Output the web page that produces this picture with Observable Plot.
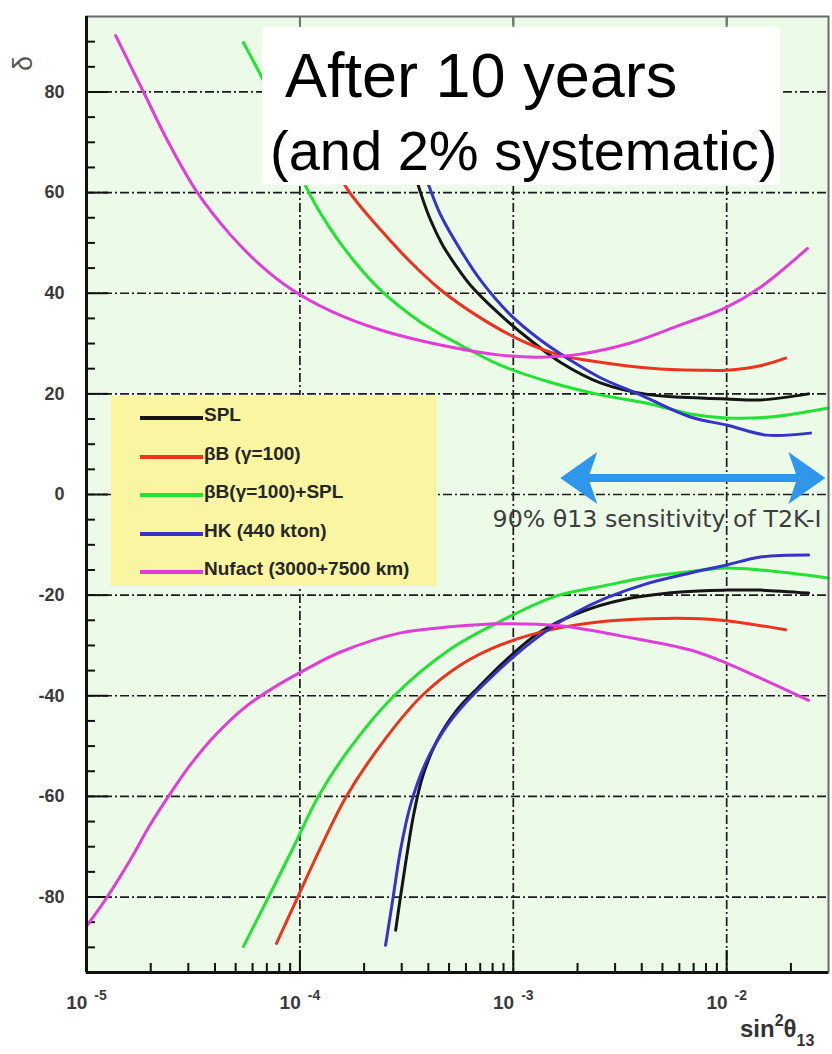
<!DOCTYPE html>
<html>
<head>
<meta charset="utf-8">
<script src="https://cdn.jsdelivr.net/npm/d3@7"></script>
<script src="https://cdn.jsdelivr.net/npm/@observablehq/plot@0.6"></script>
<style>
  body { margin: 0; background: #fff; }
  #wrap { position: relative; width: 832px; height: 1054px; overflow: hidden; font-family: "Liberation Sans", Arial, Helvetica, sans-serif; }
  #wrap svg { position: absolute; left: 0; top: 0; }
  .note { position: absolute; left: 262px; top: 27px; width: 518px; height: 158px; background: #fff; color: #000; }
  .note div { position: absolute; white-space: nowrap; line-height: 1; }
  .legend { position: absolute; left: 111px; top: 395px; width: 326px; height: 191px; background: #faf5a0; }
  .legend .sw { position: absolute; left: 29px; width: 63px; height: 4px; }
  .legend .lb { position: absolute; left: 93px; font-size: 19px; font-weight: bold; line-height: 1; color: #262626; white-space: nowrap; }
  .ylab { position: absolute; left: 16px; top: 50px; font-size: 27px; color: #555; transform: rotate(-90deg); line-height: 1; }
</style>
</head>
<body>
<div id="wrap"></div>
<script>
// Experiments compared for CP-violation (delta) discovery reach
const seriesNames = ["SPL", "βB (γ=100)", "βB(γ=100)+SPL", "HK (440 kton)", "Nufact (3000+7500 km)"];
const seriesColors = ["#151515", "#ee321e", "#22e232", "#3434cc", "#e23cda"];

// Each curve: [sin^2 theta13, delta (deg)]
const splUpper = [[2.72e-4, 82.4], [3.03e-4, 73.5], [3.37e-4, 65.5], [3.67e-4, 60.1], [4.09e-4, 54.6], [4.66e-4, 49.6], [5.36e-4, 45.6], [6.3e-4, 41.6], [8.7e-4, 35.7], [1.2e-3, 30.7], [1.66e-3, 26.3], [2.56e-3, 22.2], [4.39e-3, 19.8], [7.53e-3, 19.2], [1.0e-2, 19.0], [1.44e-2, 18.8], [2.42e-2, 20.0]];
const splLower = [[2.81e-4, -86.6], [2.96e-4, -80], [3.16e-4, -72.1], [3.41e-4, -63.7], [3.75e-4, -56.2], [4.36e-4, -49.2], [5.36e-4, -43.2], [6.87e-4, -38.3], [9.19e-4, -33.0], [1.34e-3, -27.3], [2.06e-3, -23.4], [3.18e-3, -21.0], [6.07e-3, -19.4], [1.0e-2, -19.0], [1.44e-2, -19.0], [2.42e-2, -19.6]];

const bbUpper = [[7.77e-5, 89], [9.75e-5, 80], [1.25e-4, 70.2], [1.7e-4, 60.2], [2.39e-4, 52.6], [3.3e-4, 46.2], [4.56e-4, 40.7], [7.02e-4, 35.1], [1.08e-3, 30.7], [1.66e-3, 27.7], [2.56e-3, 26.3], [4.39e-3, 25.1], [7.53e-3, 24.7], [1.0e-2, 24.7], [1.44e-2, 25.6], [1.89e-2, 27.1]];
const bbLower = [[7.77e-5, -89.2], [9.75e-5, -80.1], [1.25e-4, -70.2], [1.64e-4, -60.2], [2.39e-4, -49.8], [3.67e-4, -40.3], [5.66e-4, -33.9], [8.7e-4, -29.9], [1.49e-3, -26.9], [2.56e-3, -25.3], [4.39e-3, -24.7], [7.53e-3, -24.7], [1.0e-2, -25.1], [1.89e-2, -26.9]];

const bbSplUpper = [[5.44e-5, 89.8], [6.68e-5, 82.6], [8.56e-5, 72.7], [1.06e-4, 61.5], [1.39e-4, 52.8], [1.82e-4, 46.1], [2.39e-4, 40.6], [3.67e-4, 34.3], [5.66e-4, 29.7], [8.7e-4, 25.7], [1.49e-3, 22.3], [2.56e-3, 19.8], [4.39e-3, 18.0], [6.76e-3, 16.0], [9.97e-3, 15.2], [1.6e-2, 15.4], [3.0e-2, 17.2]];
const bbSplLower = [[5.44e-5, -89.8], [7.13e-5, -80], [9.33e-5, -70.1], [1.22e-4, -60], [1.73e-4, -50.2], [2.75e-4, -40.1], [5.08e-4, -30.7], [8.7e-4, -25.2], [1.58e-3, -20.2], [2.56e-3, -18.3], [4.39e-3, -16.3], [6.76e-3, -15.3], [9.97e-3, -14.6], [1.44e-2, -15], [3.0e-2, -16.6]];

const hkUpper = [[2.52e-4, 89.6], [2.9e-4, 80.4], [3.3e-4, 72.5], [3.67e-4, 66.1], [4.01e-4, 61.5], [4.56e-4, 55.6], [5.66e-4, 48.6], [7.02e-4, 42.6], [9.7e-4, 35.7], [1.34e-3, 30.7], [1.85e-3, 26.7], [2.56e-3, 23.2], [3.94e-3, 19.8], [6.76e-3, 15.4], [1.0e-2, 13.8], [1.54e-2, 11.8], [2.47e-2, 12.2]];
const hkLower = [[2.52e-4, -89.6], [2.72e-4, -80.7], [2.96e-4, -70.7], [3.3e-4, -61.7], [3.88e-4, -53.4], [4.81e-4, -46.4], [5.98e-4, -41.4], [7.84e-4, -36.4], [1.03e-3, -31.8], [1.41e-3, -27.3], [1.95e-3, -23.5], [2.71e-3, -20.6], [4.16e-3, -17.8], [6.76e-3, -15.6], [1.0e-2, -14.0], [1.44e-2, -12.4], [2.42e-2, -12.0]];

const nufactUpper = [[1.37e-5, 91.2], [1.85e-5, 80], [2.42e-5, 70], [3.31e-5, 60], [4.73e-5, 51.6], [6.53e-5, 45.6], [9.04e-5, 40.9], [1.39e-4, 36.5], [2.39e-4, 32.7], [5.08e-4, 29.3], [8.7e-4, 27.7], [1.34e-3, 27.3], [2.06e-3, 27.9], [3.54e-3, 30.1], [6.07e-3, 33.7], [9.97e-3, 37.2], [1.44e-2, 41.2], [2.39e-2, 48.9]];
const nufactLower = [[1.0e-5, -85.8], [1.1e-5, -83.4], [1.25e-5, -80], [1.61e-5, -72.5], [1.99e-5, -65.6], [2.42e-5, -60], [3.07e-5, -53.7], [4.02e-5, -47.8], [5.56e-5, -42.2], [7.52e-5, -38.4], [1.01e-4, -35.3], [1.55e-4, -31.3], [2.96e-4, -27.5], [5.08e-4, -26.3], [8.7e-4, -25.7], [1.66e-3, -26.1], [3.18e-3, -28.1], [6.76e-3, -30.9], [9.97e-3, -33.5], [1.44e-2, -36.5], [2.42e-2, -40.9]];

// Axis ticks
const xDomain = [1e-5, 3e-2];
const yDomain = [-95, 95];
const xDecades = [1e-5, 1e-4, 1e-3, 1e-2];
const xGrid = [1e-4, 1e-3, 1e-2];
const xMinor = [2e-5, 3e-5, 4e-5, 5e-5, 6e-5, 7e-5, 8e-5, 9e-5, 2e-4, 3e-4, 4e-4, 5e-4, 6e-4, 7e-4, 8e-4, 9e-4, 2e-3, 3e-3, 4e-3, 5e-3, 6e-3, 7e-3, 8e-3, 9e-3, 2e-2];
const yGrid = [-80, -60, -40, -20, 0, 20, 40, 60, 80];
const yMinor = [-90, -85, -75, -70, -65, -55, -50, -45, -35, -30, -25, -15, -10, -5, 5, 10, 15, 25, 30, 35, 45, 50, 55, 65, 70, 75, 85, 90];

// T2K-I 90% theta13 sensitivity marker
const arrowDelta = 3.3;
const arrowTips = [1.66e-3, 2.9e-2];
const arrowShaft = [1.8e-3, 2.69e-2];
const arrowColor = "#2e97ec";
const noteText = "90% θ13 sensitivity of T2K-I";
const noteX = 8.0e-4;
const noteDelta = -4.9;

const curves = [
  [seriesNames[0], "up", splUpper], [seriesNames[0], "down", splLower],
  [seriesNames[1], "up", bbUpper], [seriesNames[1], "down", bbLower],
  [seriesNames[2], "up", bbSplUpper], [seriesNames[2], "down", bbSplLower],
  [seriesNames[3], "up", hkUpper], [seriesNames[3], "down", hkLower],
  [seriesNames[4], "up", nufactUpper], [seriesNames[4], "down", nufactLower]
];
const rows = curves.flatMap(([series, branch, pts]) =>
  pts.map(([x, d]) => ({series, key: series + "/" + branch, x, d})));

// Filled, swept-back arrowhead pointing to +x with its tip at the origin
const arrowHead = {
  draw(ctx, size) {
    const r = Math.sqrt(size / Math.PI);
    ctx.moveTo(0, 0);
    ctx.lineTo(-1.85 * r, -1.3 * r);
    ctx.lineTo(-1.4 * r, 0);
    ctx.lineTo(-1.85 * r, 1.3 * r);
    ctx.closePath();
  }
};

const gridStyle = {stroke: "#1c1c1c", strokeWidth: 1.7, strokeDasharray: "9,3,2,3"};
const blank = () => "";

const chart = Plot.plot({
  width: 832,
  height: 1054,
  marginLeft: 86,
  marginRight: 4,
  marginTop: 16,
  marginBottom: 82,
  style: {background: "transparent", fontFamily: "'Liberation Sans', Arial, sans-serif"},
  x: {type: "log", domain: xDomain, label: null},
  y: {domain: yDomain, label: null},
  color: {domain: seriesNames, range: seriesColors},
  marks: [
    Plot.frame({fill: "#ecfae8", stroke: null}),
    Plot.ruleY(yGrid, gridStyle),
    Plot.ruleX(xGrid, gridStyle),
    Plot.axisY({ticks: yMinor, tickSize: -9, tickFormat: blank, stroke: "#111", strokeWidth: 2, label: null}),
    Plot.axisY({ticks: yGrid, tickSize: -22, tickFormat: blank, stroke: "#111", strokeWidth: 2, label: null}),
    Plot.axisY({ticks: yGrid, tickSize: 0, tickPadding: 22, tickFormat: d => `${d}`,
      fontSize: 18, fontWeight: "bold", fill: "#3a3a3a", label: null}),
    Plot.axisX({ticks: xMinor, tickSize: -9, tickFormat: blank, stroke: "#111", strokeWidth: 2, label: null}),
    Plot.axisX({ticks: xGrid, tickSize: -22, tickFormat: blank, stroke: "#111", strokeWidth: 2, label: null}),
    Plot.axisX({anchor: "top", ticks: xGrid, tickSize: -11, tickFormat: blank, stroke: "#777", strokeWidth: 2, label: null}),
    Plot.axisX({ticks: xDecades, tickSize: 0, tickPadding: 23, tickFormat: d => `10^${Math.round(Math.log10(d))}`,
      fontSize: 19, fontWeight: "bold", fill: "#3a3a3a", label: null}),
    Plot.line(rows, {x: "x", y: "d", z: "key", stroke: "series", strokeWidth: 3, curve: "catmull-rom"}),
    Plot.ruleY([arrowDelta], {x1: arrowShaft[0], x2: arrowShaft[1], stroke: arrowColor, strokeWidth: 8}),
    Plot.dot(arrowTips.map((x, i) => ({x, d: arrowDelta, rot: i === 0 ? 180 : 0})),
      {x: "x", y: "d", rotate: "rot", r: 20, symbol: arrowHead, fill: arrowColor, stroke: null}),
    Plot.text([noteText], {x: noteX, y: noteDelta, text: d => d, textAnchor: "start",
      fontSize: 23.7, fill: "#3c3c3c", fontFamily: "'DejaVu Sans', sans-serif"}),
    Plot.frame({stroke: "#6a6a6a", strokeWidth: 2}),
    Plot.ruleX([xDomain[0]], {stroke: "#111", strokeWidth: 3}),
    Plot.ruleY([yDomain[0]], {stroke: "#111", strokeWidth: 3})
  ]
});

// Decade labels as 10 with a raised exponent
d3.select(chart).selectAll('g[aria-label="x-axis tick label"] text').each(function () {
  const m = this.textContent.match(/^10\^(-?\d+)$/);
  if (!m) return;
  const t = d3.select(this);
  t.text("10");
  t.append("tspan").attr("dx", 7).attr("dy", -9).attr("font-size", 14).text(m[1]);
});

// x-axis title: sin²θ13
const xt = d3.select(chart).append("text")
  .attr("x", 740).attr("y", 1037).attr("text-anchor", "start")
  .attr("font-size", 24).attr("font-weight", "bold").attr("fill", "#333")
  .attr("font-family", "'Liberation Sans', Arial, sans-serif");
xt.append("tspan").text("sin");
xt.append("tspan").attr("dy", -11).attr("font-size", 16).text("2");
xt.append("tspan").attr("dy", 11).text("θ");
xt.append("tspan").attr("dy", 9).attr("font-size", 16).text("13");

const wrap = document.getElementById("wrap");
wrap.appendChild(chart);

// y-axis title
const ylab = document.createElement("div");
ylab.className = "ylab";
ylab.textContent = "δ";
wrap.appendChild(ylab);

// Heading box
const note = document.createElement("div");
note.className = "note";
const l1 = document.createElement("div");
l1.style.cssText = "left:23px;top:17px;font-size:63px;";
l1.textContent = "After 10 years";
const l2 = document.createElement("div");
l2.style.cssText = "left:8px;top:96px;font-size:56px;";
l2.textContent = "(and 2% systematic)";
note.append(l1, l2);
wrap.appendChild(note);

// Legend
const legend = document.createElement("div");
legend.className = "legend";
const rowTop = [23, 62, 100, 139, 177];
seriesNames.forEach((name, i) => {
  const sw = document.createElement("div");
  sw.className = "sw";
  sw.style.top = (rowTop[i] - 2) + "px";
  sw.style.background = seriesColors[i];
  const lb = document.createElement("div");
  lb.className = "lb";
  lb.style.top = (rowTop[i] + 3 - 16) + "px";
  lb.textContent = name;
  legend.append(sw, lb);
});
wrap.appendChild(legend);
</script>
</body>
</html>
